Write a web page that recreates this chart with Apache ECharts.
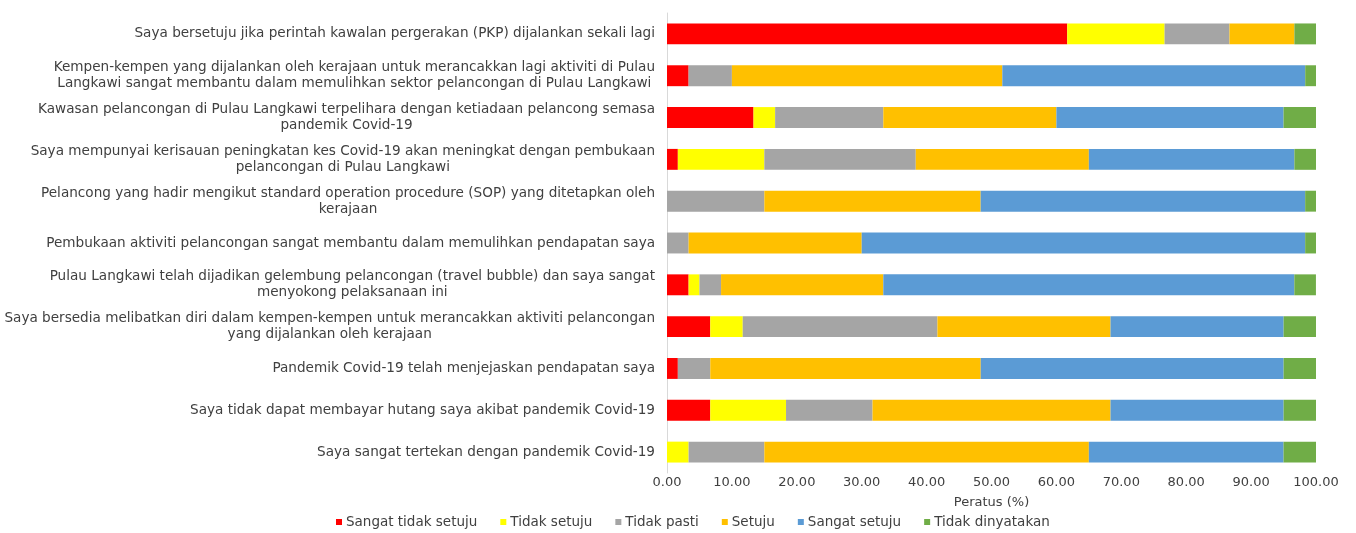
<!DOCTYPE html>
<html>
<head>
<meta charset="utf-8">
<script src="https://cdn.jsdelivr.net/npm/echarts@6/dist/echarts.min.js"></script>
<style>
html,body{margin:0;padding:0;background:#fff;}
#chart{width:1356px;height:533px;}
</style>
</head>
<body>
<div id="chart"></div>
<script>
// Categories (top to bottom)
const categories = [
  "Saya bersetuju jika perintah kawalan pergerakan (PKP) dijalankan sekali lagi",
  "Kempen-kempen yang dijalankan oleh kerajaan untuk merancakkan lagi aktiviti di Pulau\nLangkawi sangat membantu dalam memulihkan sektor pelancongan di Pulau Langkawi",
  "Kawasan pelancongan di Pulau Langkawi terpelihara dengan ketiadaan pelancong semasa\npandemik Covid-19",
  "Saya mempunyai kerisauan peningkatan kes Covid-19 akan meningkat dengan pembukaan\npelancongan di Pulau Langkawi",
  "Pelancong yang hadir mengikut standard operation procedure (SOP) yang ditetapkan oleh\nkerajaan",
  "Pembukaan aktiviti pelancongan sangat membantu dalam memulihkan pendapatan saya",
  "Pulau Langkawi telah dijadikan gelembung pelancongan (travel bubble) dan saya sangat\nmenyokong pelaksanaan ini",
  "Saya bersedia melibatkan diri dalam kempen-kempen untuk merancakkan aktiviti pelancongan\nyang dijalankan oleh kerajaan",
  "Pandemik Covid-19 telah menjejaskan pendapatan saya",
  "Saya tidak dapat membayar hutang saya akibat pandemik Covid-19",
  "Saya sangat tertekan dengan pandemik Covid-19"
];

const seriesNames = ["Sangat tidak setuju", "Tidak setuju", "Tidak pasti", "Setuju", "Sangat setuju", "Tidak dinyatakan"];

// Values in percent, same order as categories
const sangatTidakSetuju = [61.67, 3.33, 13.33, 1.67, 0, 0, 3.33, 6.67, 1.67, 6.67, 0];
const tidakSetuju       = [15.00, 0, 3.33, 13.33, 0, 0, 1.67, 5.00, 0, 11.67, 3.33];
const tidakPasti        = [10.00, 6.67, 16.67, 23.33, 15.00, 3.33, 3.33, 30.00, 5.00, 13.33, 11.67];
const setuju            = [10.00, 41.67, 26.67, 26.67, 33.33, 26.67, 25.00, 26.67, 41.67, 36.67, 50.00];
const sangatSetuju      = [0, 46.67, 35.00, 31.67, 50.00, 68.33, 63.33, 26.67, 46.67, 26.67, 30.00];
const tidakDinyatakan   = [3.33, 1.67, 5.00, 3.33, 1.67, 1.67, 3.33, 5.00, 5.00, 5.00, 5.00];

const xTicks = { min: 0, max: 100, interval: 10 };
const xAxisName = "Peratus (%)";

const colors = ["#FF0000", "#FFFF00", "#A5A5A5", "#FFC000", "#5B9BD5", "#70AD47"];
const allValues = [sangatTidakSetuju, tidakSetuju, tidakPasti, setuju, sangatSetuju, tidakDinyatakan];

const FONT = "DejaVu Sans";
const chart = echarts.init(document.getElementById('chart'));
chart.setOption({
  animation: false,
  color: colors,
  grid: { left: 667, right: 40, top: 13, bottom: 60, containLabel: false },
  legend: {
    top: 515,
    left: 336,
    padding: 0,
    itemWidth: 6,
    itemHeight: 6,
    itemGap: 23,
    icon: 'rect',
    textStyle: { fontFamily: FONT, fontSize: 13.5, color: '#404040', padding: [0, 0, 0, -1] },
    data: seriesNames
  },
  xAxis: {
    type: 'value',
    min: xTicks.min,
    max: xTicks.max,
    interval: xTicks.interval,
    name: xAxisName,
    nameLocation: 'middle',
    nameGap: 23,
    nameTextStyle: { fontFamily: FONT, fontSize: 13, color: '#404040' },
    axisLine: { show: false },
    axisTick: { show: false },
    splitLine: { show: false },
    axisLabel: {
      fontFamily: FONT, fontSize: 13, color: '#404040', margin: 3,
      formatter: v => v.toFixed(2)
    }
  },
  yAxis: {
    type: 'category',
    inverse: true,
    data: categories,
    axisLine: { show: true, lineStyle: { color: '#D9D9D9', width: 1 } },
    axisTick: { show: false },
    splitLine: { show: false },
    axisLabel: {
      margin: 12,
      align: 'right',
      formatter: v => v.split('\n').map(l => '{c|' + l + '}').join('\n'),
      rich: {
        c: { align: 'center', fontFamily: FONT, fontSize: 13.6, color: '#404040', lineHeight: 16 }
      }
    }
  },
  series: seriesNames.map((name, i) => ({
    name: name,
    type: 'bar',
    stack: 'total',
    barWidth: '50%',
    data: allValues[i]
  }))
});
</script>
</body>
</html>
